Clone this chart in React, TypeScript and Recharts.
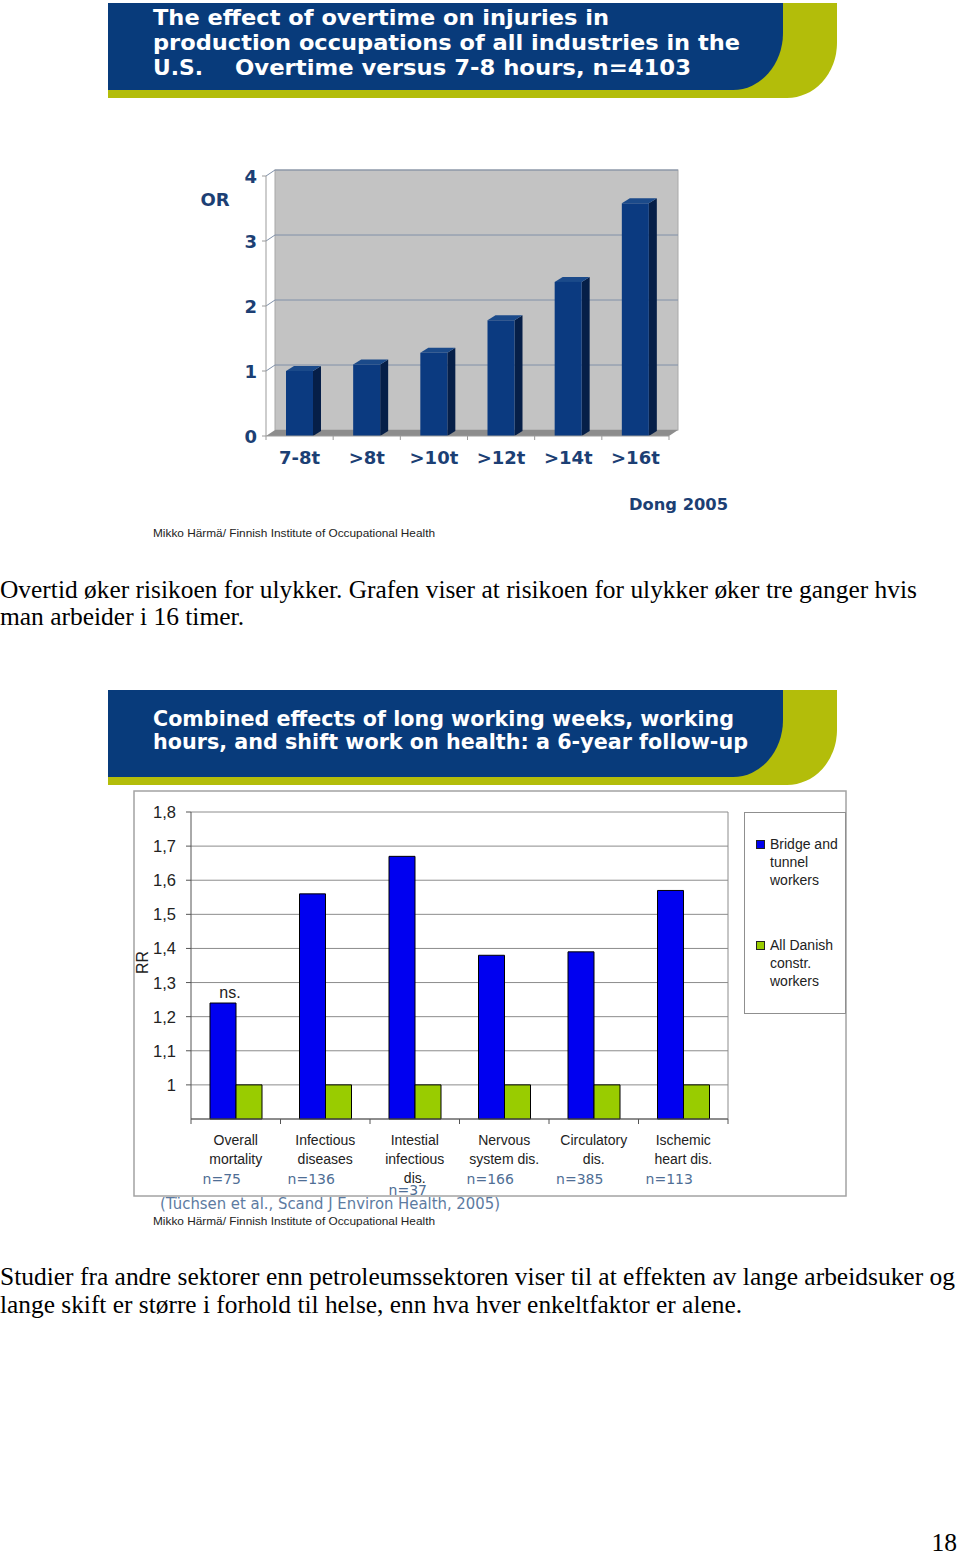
import React from 'react';
import { BarChart, Bar, XAxis, YAxis, CartesianGrid, ReferenceArea, LabelList, Legend } from 'recharts';

// chart 1: overtime vs injuries (OR)
const overtimeCats = ['7-8t', '>8t', '>10t', '>12t', '>14t', '>16t'];
const overtimeOR = [1.0, 1.1, 1.28, 1.78, 2.37, 3.58];
const orTicks = [0, 1, 2, 3, 4];

// chart 2: combined effects (RR)
const causes = ['Overall\nmortality', 'Infectious\ndiseases', 'Intestial\ninfectious\ndis.', 'Nervous\nsystem dis.', 'Circulatory\ndis.', 'Ischemic\nheart dis.'];
const caseCounts = ['n=75', 'n=136', 'n=37', 'n=166', 'n=385', 'n=113'];
const bridgeRR = [1.24, 1.56, 1.67, 1.38, 1.39, 1.57];
const danishRR = [1, 1, 1, 1, 1, 1];
const notes = ['ns.', '', '', '', '', ''];
const rrTicks = [1, 1.1, 1.2, 1.3, 1.4, 1.5, 1.6, 1.7, 1.8];
const seriesNames = ['Bridge and tunnel workers', 'All Danish constr. workers'];

const orData = overtimeCats.map((cat, i) => ({ cat, or: overtimeOR[i] }));
const rrData = causes.map((cause, i) => ({ cause, bridge: bridgeRR[i], danish: danishRR[i], note: notes[i] }));

const BLUE = '#083b7b';
const LIME = '#b3bd0a';
const NAVY = '#1c3f74';
const DX = 9;
const DY = 6;

const Banner = ({ top, lines }: { top: number; lines: { t: string; x: number; y: number; w: number }[] }) => (
  <g>
    <path d={`M108 ${top} H837 V${top + 40} A50 55 0 0 1 787 ${top + 95} H108 Z`} fill={LIME} />
    <path d={`M108 ${top} H783 V${top + 30} A50 57 0 0 1 733 ${top + 87} H108 Z`} fill={BLUE} />
    {lines.map((l, i) => (
      <text key={i} x={l.x} y={l.y} textLength={l.w} lengthAdjust="spacingAndGlyphs" fill="#fff"
        fontFamily="DejaVu Sans" fontWeight="bold" fontSize={20.5}>{l.t}</text>
    ))}
  </g>
);

// back wall + floor of the 3d plot
const Room = (p: any) => {
  const { x, y, width, height } = p;
  const base = y + height;
  const unit = height / orTicks[orTicks.length - 1];
  const band = width / overtimeCats.length;
  return (
    <g>
      <rect x={x + DX} y={y - DY} width={width} height={height} fill="#c3c3c3" stroke="#a8a8a8" />
      {orTicks.slice(1).map(t => {
        const gy = base - unit * t;
        return (
          <g key={t}>
            <line x1={x} y1={gy} x2={x + DX} y2={gy - DY} stroke="#8090a8" />
            <line x1={x + DX} y1={gy - DY} x2={x + DX + width} y2={gy - DY} stroke="#8090a8" />
          </g>
        );
      })}
      <polygon points={`${x},${base} ${x + width},${base} ${x + width + DX},${base - DY} ${x + DX},${base - DY}`} fill="#8d8d8d" />
      {overtimeCats.concat('').map((_, i) => (
        <line key={i} x1={x + band * i} y1={base} x2={x + band * i} y2={base + 4} stroke="#9b9b9b" />
      ))}
    </g>
  );
};

const Bar3D = (p: any) => {
  const { x, y, width: w, height: h } = p;
  const dx = 8, dy = 5;
  return (
    <g>
      <polygon points={`${x + w},${y} ${x + w + dx},${y - dy} ${x + w + dx},${y + h - dy} ${x + w},${y + h}`} fill="#061f48" />
      <polygon points={`${x},${y} ${x + dx},${y - dy} ${x + w + dx},${y - dy} ${x + w},${y}`} fill="#1b4a8a" />
      <rect x={x} y={y} width={w} height={h} fill="#0b3a80" />
    </g>
  );
};

const OrXTick = ({ x, y, payload }: any) => (
  <text x={x} y={y + 28} textAnchor="middle" fill={NAVY} fontFamily="DejaVu Sans" fontWeight="bold" fontSize={18}>{payload.value}</text>
);
const OrYTick = ({ x, y, payload }: any) => (
  <text x={x} y={y} dy={6.5} textAnchor="end" fill={NAVY} fontFamily="DejaVu Sans" fontWeight="bold" fontSize={18}>{payload.value}</text>
);
const OrTitle = ({ viewBox }: any) => (
  <text x={viewBox.x + 65} y={viewBox.y + 29.5} textAnchor="middle" fill={NAVY} fontFamily="DejaVu Sans" fontWeight="bold" fontSize={18}>OR</text>
);

// chart 2 pieces
const PlotFrame = (p: any) => {
  const { x, y, width, height } = p;
  const band = width / causes.length;
  return (
    <g>
      <line x1={x + width} y1={y} x2={x + width} y2={y + height} stroke="#8c8c8c" />
      {causes.concat('').map((_, i) => (
        <line key={i} x1={x + band * i} y1={y + height} x2={x + band * i} y2={y + height + 5} stroke="#555" />
      ))}
    </g>
  );
};

const CauseTick = ({ x, y, payload, index }: any) => {
  const lines = String(payload.value).split('\n');
  const long = lines.length > 2;
  return (
    <g>
      {lines.map((l, i) => (
        <text key={i} x={x} y={y + 26 + i * 19} textAnchor="middle" fill="#222" fontFamily="Liberation Sans" fontSize={14}>{l}</text>
      ))}
      <text x={x + (long ? -7 : -14)} y={y + (long ? 76 : 65)} textAnchor="middle" fill="#4f6e95" fontFamily="DejaVu Sans" fontSize={14}>
        {caseCounts[index]}
      </text>
    </g>
  );
};

const fmtRR = (v: number) => (Number.isInteger(v) ? String(v) : v.toFixed(1).replace('.', ','));
const RRTick = ({ x, y, payload }: any) => (
  <text x={x} y={y} dy={6} textAnchor="end" fill="#222" fontFamily="Liberation Sans" fontSize={16.5}>{fmtRR(payload.value)}</text>
);
const RRTitle = ({ viewBox }: any) => {
  const cx = viewBox.x + 14;
  const cy = viewBox.y + viewBox.height / 2 - 3;
  return (
    <text x={cx} y={cy} transform={`rotate(-90 ${cx} ${cy})`} textAnchor="middle" fill="#222" fontFamily="Liberation Sans" fontSize={16}>RR</text>
  );
};
const NoteLabel = ({ x, y, width, value }: any) =>
  value ? (
    <text x={x + width / 2 + 7} y={y - 5} textAnchor="middle" fill="#222" fontFamily="Liberation Sans" fontSize={16}>{value}</text>
  ) : null;

const LegendBox = ({ payload }: any) => {
  const items = [...(payload || [])].sort((a: any, b: any) => seriesNames.indexOf(a.value) - seriesNames.indexOf(b.value));
  return (
    <div style={{ width: 102, height: 202, boxSizing: 'border-box', border: '1px solid #8f8f8f', background: '#fff', position: 'relative',
      fontFamily: 'Liberation Sans', fontSize: 14, lineHeight: '18px', color: '#222' }}>
      {items.map((p: any, i: number) => (
        <div key={i} style={{ position: 'absolute', left: 11, top: 22 + i * 101, display: 'flex' }}>
          <span style={{ width: 7, height: 7, border: '1px solid #222', background: p.color, marginTop: 5, marginRight: 5, flex: 'none' }} />
          <span style={{ width: 74 }}>{p.value}</span>
        </div>
      ))}
    </div>
  );
};

const serif = { fontFamily: "'Liberation Serif', 'Times New Roman', Times, serif", fontSize: 25.5, fill: '#000' };

export default function App() {
  return (
    <div style={{ position: 'absolute', left: 0, top: 0, width: 960, height: 1554, background: '#fff', overflow: 'hidden' }}>
      <svg width={960} height={1554} style={{ position: 'absolute', left: 0, top: 0 }}>
        <Banner top={3} lines={[
          { t: 'The effect of overtime on injuries in', x: 153, y: 25, w: 456 },
          { t: 'production occupations of all industries in the', x: 153, y: 50, w: 587 },
          { t: 'U.S.', x: 153, y: 75, w: 50 },
          { t: 'Overtime versus 7-8 hours, n=4103', x: 235, y: 75, w: 456 },
        ]} />
        <text x={629} y={510} textLength={99} lengthAdjust="spacingAndGlyphs" fill={NAVY} fontFamily="DejaVu Sans" fontWeight="bold" fontSize={16}>Dong 2005</text>
        <text x={153} y={537} textLength={282} lengthAdjust="spacingAndGlyphs" fill="#222" fontFamily="Liberation Sans" fontSize={11}>Mikko Härmä/ Finnish Institute of Occupational Health</text>

        <text x={0} y={598} textLength={917} lengthAdjust="spacingAndGlyphs" {...serif}>Overtid øker risikoen for ulykker. Grafen viser at risikoen for ulykker øker tre ganger hvis</text>
        <text x={0} y={625} textLength={244} lengthAdjust="spacingAndGlyphs" {...serif}>man arbeider i 16 timer.</text>

        <Banner top={690} lines={[
          { t: 'Combined effects of long working weeks, working', x: 153, y: 726, w: 581 },
          { t: 'hours, and shift work on health: a 6-year follow-up', x: 153, y: 749, w: 595 },
        ]} />
        <rect x={134} y={791} width={712} height={405} fill="none" stroke="#a3a3a3" strokeWidth={1.5} />
        <text x={160} y={1209} textLength={340} lengthAdjust="spacingAndGlyphs" fill="#5d7ba1" fontFamily="DejaVu Sans" fontSize={15.5}>(Tüchsen et al., Scand J Environ Health, 2005)</text>
        <text x={153} y={1225} textLength={282} lengthAdjust="spacingAndGlyphs" fill="#222" fontFamily="Liberation Sans" fontSize={11}>Mikko Härmä/ Finnish Institute of Occupational Health</text>

        <text x={0} y={1285} textLength={955} lengthAdjust="spacingAndGlyphs" {...serif}>Studier fra andre sektorer enn petroleumssektoren viser til at effekten av lange arbeidsuker og</text>
        <text x={0} y={1313} textLength={742} lengthAdjust="spacingAndGlyphs" {...serif}>lange skift er større i forhold til helse, enn hva hver enkeltfaktor er alene.</text>
        <text x={957} y={1551} textAnchor="end" {...serif}>18</text>
      </svg>

      <div style={{ position: 'absolute', left: 150, top: 150 }}>
        <BarChart width={560} height={330} data={orData} margin={{ top: 26, right: 41, bottom: 0, left: 0 }} barSize={27}>
          <ReferenceArea y1={0} y2={4} shape={Room} ifOverflow="visible" />
          <XAxis dataKey="cat" height={44} interval={0} tickLine={false} tickSize={0} tickMargin={0}
            axisLine={{ stroke: '#9b9b9b' }} tick={OrXTick} />
          <YAxis domain={[0, 4]} ticks={orTicks} width={116} tickSize={4} tickMargin={5}
            axisLine={{ stroke: '#9b9b9b' }} tickLine={{ stroke: '#9b9b9b' }} tick={OrYTick} label={OrTitle} />
          <Bar dataKey="or" shape={Bar3D} isAnimationActive={false} />
        </BarChart>
      </div>

      <div style={{ position: 'absolute', left: 134, top: 791 }}>
        <BarChart width={712} height={417} data={rrData} margin={{ top: 21, right: 118, bottom: 0, left: 0 }} barGap={0}>
          <CartesianGrid vertical={false} stroke="#8c8c8c" />
          <ReferenceArea y1={0.9} y2={1.8} shape={PlotFrame} ifOverflow="visible" />
          <XAxis dataKey="cause" height={89} interval={0} tickLine={false} tickSize={0} tickMargin={0}
            axisLine={{ stroke: '#555' }} tick={CauseTick} />
          <YAxis domain={[0.9, 1.8]} ticks={rrTicks} width={57} tickSize={5} tickMargin={10}
            axisLine={{ stroke: '#555' }} tickLine={{ stroke: '#555' }} tick={RRTick} label={RRTitle} />
          <Bar dataKey="bridge" name={seriesNames[0]} fill="#0000f0" stroke="#000" barSize={26} isAnimationActive={false}>
            <LabelList dataKey="note" content={NoteLabel} />
          </Bar>
          <Bar dataKey="danish" name={seriesNames[1]} fill="#99cc00" stroke="#000" barSize={26} isAnimationActive={false} />
          <Legend layout="horizontal" verticalAlign="middle" align="center"
            wrapperStyle={{ left: 610, top: 21, width: 102, height: 202 }} content={LegendBox} />
        </BarChart>
      </div>
    </div>
  );
}
